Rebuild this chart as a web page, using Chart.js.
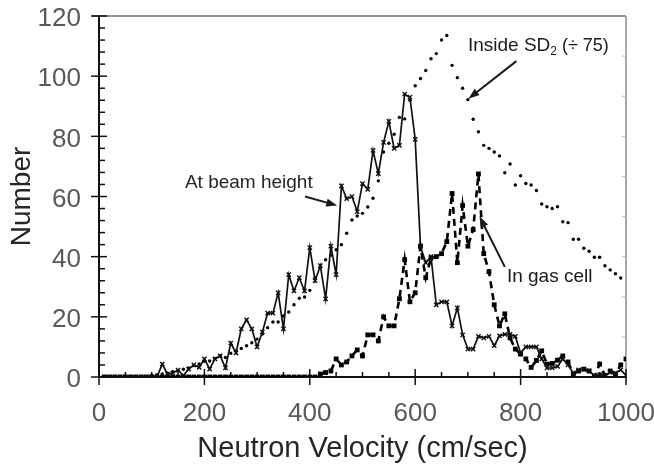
<!DOCTYPE html>
<html lang="en">
<head>
<meta charset="UTF-8" />
<title>Neutron velocity distribution</title>
<script src="https://cdn.jsdelivr.net/npm/chart.js"></script>
<style>
  body { margin: 0; background: #fff; }
  #wrap { width: 654px; height: 470px; }
</style>
</head>
<body>
<div id="wrap"><canvas id="velChart" width="654" height="470"></canvas></div>
<script>
// velocity bins (cm/sec)
const velocity = [
  10, 20, 30, 40, 50, 60, 70, 80, 90, 100,
  110, 120, 130, 140, 150, 160, 170, 180, 190, 200,
  210, 220, 230, 240, 250, 260, 270, 280, 290, 300,
  310, 320, 330, 340, 350, 360, 370, 380, 390, 400,
  410, 420, 430, 440, 450, 460, 470, 480, 490, 500,
  510, 520, 530, 540, 550, 560, 570, 580, 590, 600,
  610, 620, 630, 640, 650, 660, 670, 680, 690, 700,
  710, 720, 730, 740, 750, 760, 770, 780, 790, 800,
  810, 820, 830, 840, 850, 860, 870, 880, 890, 900,
  910, 920, 930, 940, 950, 960, 970, 980, 990, 1000
];

const beamHeight = [
  0, 0, 0, 0, 0, 0, 0, 0, 0, 0,
  0, 4.3, 1, 1.3, 2.3, 0.5, 2.6, 4, 3.2, 6,
  2.6, 6, 7, 3, 11.3, 8, 16, 19, 16, 10,
  15, 21.2, 21.2, 28, 16, 34, 28.6, 33, 28.6, 43,
  32, 37, 26, 43.5, 34, 63.5, 59.3, 60, 55, 64.3,
  62.4, 75.3, 67.6, 78, 85, 76, 77, 94, 93, 79,
  43.5, 38, 40, 24, 25, 25, 17, 23, 14, 9.3,
  9.3, 13.5, 13, 13.5, 10.4, 13.7, 14.2, 14.2, 13.5, 8,
  10, 10, 10, 6, 3, 3, 3.5, 6, 4, 1.3,
  2.4, 2.6, 2, 0.5, 0.8, 0.5, 1.5, 1.3, 2.4, 0.5
];

const gasCell = [
  0, 0, 0, 0, 0, 0, 0, 0, 0, 0,
  0, 0, 0, 0, 0, 0, 0, 0, 0, 0,
  0, 0, 0, 0, 0, 0, 0, 0, 0, 0,
  0, 0, 0, 0, 0, 0, 0, 0, 0, 0,
  0, 1, 1.5, 2, 6, 4, 5, 7, 9, 7,
  14, 14, 12, 20, 17, 17, 26, 39, 25, 28,
  43.5, 33, 39.5, 40, 41, 45, 61, 38, 57, 43.5,
  49, 67.5, 41, 35, 24, 17, 21, 13, 9.3, 7.6,
  6, 3.2, 5.5, 8.7, 4.3, 4.5, 5.6, 7, 5, 1,
  2, 2.6, 2, 0, 4.3, 0.5, 2, 1, 4, 6
];

// inside SD2, scaled down by 75
const insideSD2 = [
  0, 0, 0, 0, 0, 0, 0, 0, 0, 0.5,
  0.8, 1, 1.3, 1.8, 2.2, 2.6, 3, 3.8, 4.3, 5.2,
  5.3, 6.2, 7.1, 6.5, 7.9, 8.7, 9.5, 10.4, 11.4, 12.6,
  14.3, 16.4, 18.3, 18.3, 20.3, 21.6, 24, 26.2, 26.6, 28.8,
  33, 36.5, 39, 40.5, 42.3, 44, 47.8, 52.2, 53.5, 54.4,
  56.5, 59.4, 65.2, 74.8, 77.7, 80.7, 86.3, 85.8, 92, 96.8,
  99.2, 101.9, 105.8, 107.5, 112, 113.5, 103.6, 99.5, 96, 92.2,
  85.7, 81.5, 77, 76, 74.8, 73.5, 67.9, 70.8, 63.8, 66.9,
  64.3, 63.8, 62, 57.5, 56.6, 56, 56.6, 51.6, 51.3, 45.8,
  45.8, 42.8, 41.8, 39.8, 39.8, 37, 35.6, 34.3, 32.9, null
];

const xRange = [0, 1000];
const yRange = [0, 120];

const FONT = "'Liberation Sans', Arial, sans-serif";

function toPoints(values) {
  return velocity.map((v, i) => ({ x: v, y: values[i] }));
}

// frame, inward minor ticks, crossing major ticks
const axisDecor = {
  id: "axisDecor",
  beforeDatasetsDraw(chart) {
    const { ctx, chartArea: a, scales: { x, y } } = chart;
    ctx.save();
    ctx.strokeStyle = "#6e6e6e";
    ctx.lineWidth = 1.5;
    ctx.beginPath();
    ctx.moveTo(a.left - 7, a.top);
    ctx.lineTo(a.right, a.top);
    ctx.stroke();
    ctx.strokeStyle = "#8c8c8c";
    ctx.beginPath();
    ctx.moveTo(a.right, a.top);
    ctx.lineTo(a.right, a.bottom);
    ctx.stroke();

    // faint ticks along the right edge
    ctx.strokeStyle = "#bbb";
    ctx.lineWidth = 1;
    for (let k = 1; k < 9; k++) {
      const py = a.top + (a.bottom - a.top) * k / 9;
      ctx.beginPath();
      ctx.moveTo(a.right - 4, py);
      ctx.lineTo(a.right, py);
      ctx.stroke();
    }

    ctx.strokeStyle = "#111";
    ctx.lineWidth = 1.5;
    for (let v = 0; v <= 1000; v += 50) {
      const px = x.getPixelForValue(v);
      const major = v % 200 === 0;
      ctx.beginPath();
      ctx.moveTo(px, a.bottom + (major ? 8 : 0));
      ctx.lineTo(px, a.bottom - (major ? 8 : 5));
      ctx.stroke();
    }
    for (let v = 0; v <= 120; v += 4) {
      const py = y.getPixelForValue(v);
      const major = v % 20 === 0;
      ctx.beginPath();
      ctx.moveTo(a.left - (major ? 8 : 0), py);
      ctx.lineTo(a.left + (major ? 8 : 6), py);
      ctx.stroke();
    }
    ctx.restore();
  },
  afterDraw(chart) {
    const { ctx, scales: { x, y } } = chart;
    const P = (vx, vy) => [x.getPixelForValue(vx), y.getPixelForValue(vy)];

    function arrow(from, to) {
      const [x0, y0] = P(...from);
      const [x1, y1] = P(...to);
      const ang = Math.atan2(y1 - y0, x1 - x0);
      ctx.strokeStyle = "#1a1a1a";
      ctx.fillStyle = "#1a1a1a";
      ctx.lineWidth = 2;
      ctx.beginPath();
      ctx.moveTo(x0, y0);
      ctx.lineTo(x1 - 8 * Math.cos(ang), y1 - 8 * Math.sin(ang));
      ctx.stroke();
      ctx.beginPath();
      ctx.moveTo(x1, y1);
      ctx.lineTo(x1 - 11 * Math.cos(ang) + 4 * Math.sin(ang), y1 - 11 * Math.sin(ang) - 4 * Math.cos(ang));
      ctx.lineTo(x1 - 11 * Math.cos(ang) - 4 * Math.sin(ang), y1 - 11 * Math.sin(ang) + 4 * Math.cos(ang));
      ctx.closePath();
      ctx.fill();
    }

    ctx.save();
    ctx.fillStyle = "#262626";
    ctx.textBaseline = "middle";
    ctx.textAlign = "left";
    ctx.font = "19px " + FONT;

    let [tx, ty] = P(163, 64.6);
    ctx.fillText("At beam height", tx, ty);
    arrow([391, 60], [452, 57]);

    [tx, ty] = P(700, 110);
    ctx.fillText("Inside SD", tx, ty);
    tx += ctx.measureText("Inside SD").width;
    ctx.font = "12px " + FONT;
    ctx.fillText("2", tx, ty + 6);
    tx += ctx.measureText("2").width;
    ctx.font = "18px " + FONT;
    ctx.fillText(" (\u00f7 75)", tx, ty);
    arrow([792, 105], [701, 92.5]);

    ctx.font = "19px " + FONT;
    [tx, ty] = P(774, 33.4);
    ctx.fillText("In gas cell", tx, ty);
    arrow([770, 36.6], [722, 53.4]);
    ctx.restore();
  }
};

new Chart(document.getElementById("velChart"), {
  type: "line",
  data: {
    datasets: [
      {
        label: "At beam height",
        data: toPoints(beamHeight),
        borderColor: "#111",
        borderWidth: 1.7,
        pointStyle: "crossRot",
        pointRadius: 3,
        pointBorderColor: "#111",
        pointBorderWidth: 1.4,
        tension: 0
      },
      {
        label: "In gas cell",
        data: toPoints(gasCell),
        borderColor: "#000",
        borderWidth: 2.6,
        borderDash: [7, 5],
        pointStyle: "rect",
        pointRadius: 3.4,
        pointBackgroundColor: "#000",
        pointBorderColor: "#000",
        pointBorderWidth: 0,
        tension: 0
      },
      {
        label: "Inside SD2 (\u00f7 75)",
        data: toPoints(insideSD2),
        showLine: false,
        pointStyle: "circle",
        pointRadius: 1.7,
        pointBackgroundColor: "#000",
        pointBorderWidth: 0
      }
    ]
  },
  options: {
    responsive: false,
    animation: false,
    events: [],
    layout: { padding: { top: 16, right: 0, left: 0, bottom: 0 } },
    plugins: { legend: { display: false }, tooltip: { enabled: false } },
    scales: {
      x: {
        type: "linear",
        min: xRange[0],
        max: xRange[1],
        grid: { display: false },
        border: { display: true, color: "#111", width: 2 },
        ticks: {
          stepSize: 200,
          color: "#595959",
          padding: 13,
          maxRotation: 0,
          font: { family: FONT, size: 26 },
          callback: (v) => String(v)
        },
        title: {
          display: true,
          text: "Neutron Velocity (cm/sec)",
          color: "#262626",
          font: { family: FONT, size: 29 },
          padding: { top: 0, bottom: 4 }
        },
        afterFit(scale) {
          scale.height = 93;
          scale.paddingLeft = 0;
          scale.paddingRight = 28;
        }
      },
      y: {
        min: yRange[0],
        max: yRange[1],
        grid: { display: false },
        border: { display: true, color: "#111", width: 2 },
        ticks: {
          stepSize: 20,
          color: "#595959",
          padding: 10,
          labelOffset: 3,
          font: { family: FONT, size: 26 }
        },
        title: {
          display: true,
          text: "Number",
          color: "#262626",
          font: { family: FONT, size: 28 },
          padding: { top: 5, bottom: 0 }
        },
        afterFit(scale) {
          scale.width = 99;
          scale.paddingTop = 0;
          scale.paddingBottom = 0;
        }
      }
    }
  },
  plugins: [axisDecor]
});
</script>
</body>
</html>
